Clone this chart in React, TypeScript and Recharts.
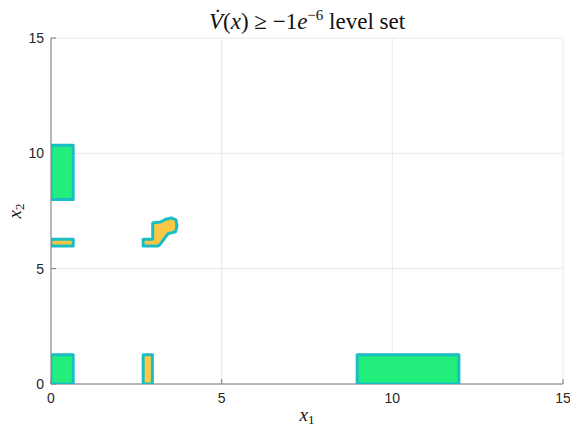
import { ScatterChart, Scatter, XAxis, YAxis, CartesianGrid, Label } from "recharts";

const xTicks = [0, 5, 10, 15];
const yTicks = [0, 5, 10, 15];

// outlines of the regions where Vdot(x) >= -1e-6, in (x1, x2) coordinates
const greenBottomLeft = [
  { x: 0, y: 0 }, { x: 0.65, y: 0 }, { x: 0.65, y: 1.27 }, { x: 0, y: 1.27 },
];
const greenTopLeft = [
  { x: 0, y: 8.0 }, { x: 0.65, y: 8.0 }, { x: 0.65, y: 10.35 }, { x: 0, y: 10.35 },
];
const greenBottomRight = [
  { x: 8.97, y: 0 }, { x: 11.95, y: 0 }, { x: 11.95, y: 1.27 }, { x: 8.97, y: 1.27 },
];
const yellowLeftBar = [
  { x: 0, y: 5.98 }, { x: 0.65, y: 5.98 }, { x: 0.65, y: 6.27 }, { x: 0, y: 6.27 },
];
const yellowBottomBar = [
  { x: 2.7, y: 0 }, { x: 2.97, y: 0 }, { x: 2.97, y: 1.27 }, { x: 2.7, y: 1.27 },
];
const yellowBlob = [
  { x: 2.7, y: 5.98 }, { x: 2.7, y: 6.27 }, { x: 2.98, y: 6.27 }, { x: 2.98, y: 6.98 },
  { x: 3.2, y: 7.02 }, { x: 3.36, y: 7.14 }, { x: 3.53, y: 7.2 }, { x: 3.66, y: 7.12 },
  { x: 3.69, y: 6.84 }, { x: 3.65, y: 6.6 }, { x: 3.43, y: 6.52 }, { x: 3.19, y: 6.04 },
  { x: 3.13, y: 5.98 },
];

const GREEN = "#22ef7b";
const YELLOW = "#fdc746";
const TEAL = "#19bdc4";
const AXIS = "#7a7a7a";
const TICK_FONT = "'Liberation Sans', Arial, sans-serif";
const MATH_FONT = "'Liberation Serif', 'DejaVu Serif', serif";

const regions = [
  { data: greenBottomLeft, fill: GREEN },
  { data: greenTopLeft, fill: GREEN },
  { data: greenBottomRight, fill: GREEN },
  { data: yellowLeftBar, fill: YELLOW },
  { data: yellowBottomBar, fill: YELLOW },
  { data: yellowBlob, fill: YELLOW },
];

export default function App() {
  return (
    <div style={{ position: "absolute", left: 0, top: 0, width: 570, height: 430, background: "#fff" }}>
      <div
        style={{
          position: "absolute",
          left: 51,
          width: 512,
          top: 10,
          textAlign: "center",
          fontFamily: MATH_FONT,
          fontSize: 23,
          lineHeight: "23px",
          color: "#111",
        }}
      >
        <i>V̇</i>(<i>x</i>) ≥ −1<i>e</i>
        <span style={{ fontSize: 15, verticalAlign: "9px", lineHeight: "0" }}>−6</span> level set
      </div>
      <ScatterChart width={570} height={430} margin={{ top: 38, right: 7, bottom: 0, left: 0 }}>
        <CartesianGrid stroke="#e8e8e8" />
        {regions.map((r, i) => (
          <Scatter
            key={i}
            data={r.data}
            dataKey="y"
            fill={r.fill}
            line={{ stroke: TEAL, strokeWidth: 3, fill: r.fill, strokeLinejoin: "round" }}
            lineJointType="linearClosed"
            shape={() => <g />}
            legendType="none"
            isAnimationActive={false}
          />
        ))}
        <XAxis
          type="number"
          dataKey="x"
          domain={[0, 15]}
          ticks={xTicks}
          allowDataOverflow
          height={46}
          stroke={AXIS}
          tickSize={-5}
          tickMargin={14}
          tick={{ fill: "#262626", fontSize: 14, fontFamily: TICK_FONT }}
        >
          <Label
            content={({ viewBox }: any) => (
              <text
                x={viewBox.x + viewBox.width / 2}
                y={viewBox.y + 37}
                textAnchor="middle"
                fontFamily={MATH_FONT}
                fill="#111"
              >
                <tspan fontSize={19} fontStyle="italic">x</tspan>
                <tspan fontSize={13} dy={3}>1</tspan>
              </text>
            )}
          />
        </XAxis>
        <YAxis
          type="number"
          dataKey="y"
          domain={[0, 15]}
          ticks={yTicks}
          allowDataOverflow
          width={51}
          stroke={AXIS}
          tickSize={-5}
          tickMargin={12}
          tick={{ fill: "#262626", fontSize: 14, fontFamily: TICK_FONT }}
        >
          <Label
            content={({ viewBox }: any) => {
              const cx = 21;
              const cy = viewBox.y + viewBox.height / 2;
              return (
                <text
                  x={cx}
                  y={cy}
                  textAnchor="middle"
                  transform={`rotate(-90, ${cx}, ${cy})`}
                  fontFamily={MATH_FONT}
                  fill="#111"
                >
                  <tspan fontSize={19} fontStyle="italic">x</tspan>
                  <tspan fontSize={13} dy={3}>2</tspan>
                </text>
              );
            }}
          />
        </YAxis>
      </ScatterChart>
    </div>
  );
}
